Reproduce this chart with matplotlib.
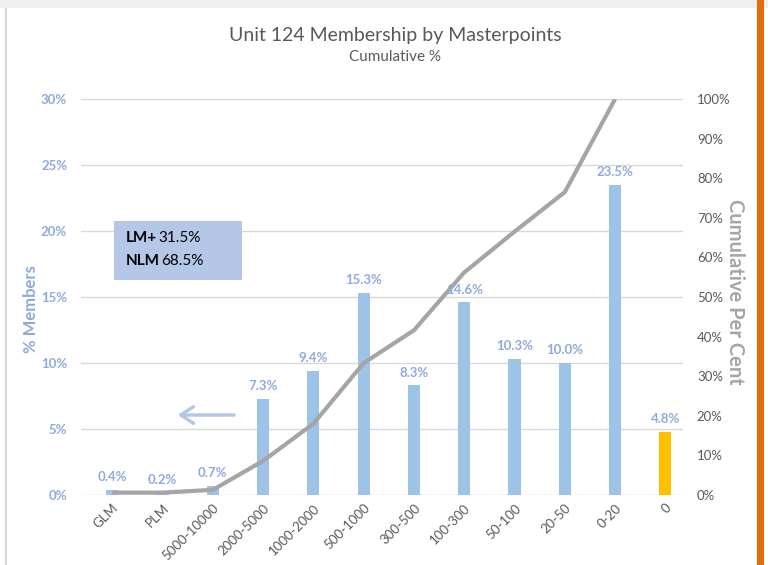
import matplotlib
matplotlib.use("Agg")
import matplotlib.pyplot as plt
from matplotlib.patches import Rectangle, FancyArrowPatch

plt.rcParams['font.family'] = ['Lato', 'DejaVu Sans']

categories = ["GLM", "PLM", "5000-10000", "2000-5000", "1000-2000", "500-1000",
              "300-500", "100-300", "50-100", "20-50", "0-20", "0"]
members_pct = [0.4, 0.2, 0.7, 7.3, 9.4, 15.3, 8.3, 14.6, 10.3, 10.0, 23.5, 4.8]
cumulative_pct = [0.6, 0.6, 1.3, 8.6, 18.0, 33.3, 41.6, 56.2, 66.5, 76.5, 100.0]
left_ticks = [0, 5, 10, 15, 20, 25, 30]
right_ticks = [0, 10, 20, 30, 40, 50, 60, 70, 80, 90, 100]

BLUE_BAR = "#9DC3E6"
YELLOW = "#FFC000"
LABEL_BLUE = "#8FAADC"
GRAY_LINE = "#A5A5A5"
TEXT_GRAY = "#595959"

fig = plt.figure(figsize=(7.68, 5.65), dpi=100)

# frame decorations
fig.add_artist(Rectangle((0, 1 - 8/565), 1, 8/565, transform=fig.transFigure,
                         facecolor="#EFEFEF", edgecolor="none"))
fig.add_artist(Rectangle((5/768, 0), 1.5/768, 1 - 8/565, transform=fig.transFigure,
                         facecolor="#D9D9D9", edgecolor="none"))
fig.add_artist(Rectangle((757/768, 0), 7/768, 1, transform=fig.transFigure,
                         facecolor="#E46C0A", edgecolor="none"))

left = 81/768
bottom = (565-495)/565
width = (683-81)/768
height = (495-99)/565
ax = fig.add_axes([left, bottom, width, height])
ax2 = ax.twinx()
ax.set_zorder(ax2.get_zorder() + 1)
ax.patch.set_visible(False)

x = list(range(len(categories)))
colors = [BLUE_BAR] * (len(categories) - 1) + [YELLOW]
ax.bar(x, members_pct, width=0.24, color=colors, zorder=2)
for xi, v in zip(x, members_pct):
    ax.text(xi, v + 0.5, f"{v:.1f}%", ha="center", va="bottom", color=LABEL_BLUE,
            fontsize=9.5, fontweight="bold", zorder=5)

ax.set_ylim(0, 30)
ax.set_xlim(-0.62, 11.35)
ax.set_yticks(left_ticks, labels=[f"{t}%" for t in left_ticks], fontweight="bold",
              color=LABEL_BLUE, fontsize=9.5)
ax.grid(axis="y", color="#D9D9D9", linewidth=1, zorder=0)
ax.set_axisbelow(True)
for s in ax.spines.values():
    s.set_visible(False)
for s in ax2.spines.values():
    s.set_visible(False)
ax.tick_params(axis="y", length=0, pad=10)
ax.tick_params(axis="x", length=0, pad=5, labelcolor=TEXT_GRAY, labelsize=9.5)
ax.set_xticks(x)
ax.set_xticklabels(categories, rotation=45, ha="right", rotation_mode="anchor")

ax2.set_ylim(0, 100)
ax2.set_yticks(right_ticks, labels=[f"{t}%" for t in right_ticks], color=TEXT_GRAY, fontsize=9.5)
ax2.tick_params(axis="y", length=0, pad=10)
ax.plot(x[:len(cumulative_pct)], [c * 0.3 for c in cumulative_pct], color=GRAY_LINE,
        linewidth=3, zorder=4, solid_capstyle="butt")

fig.text(31/768, 1 - 309/565, "% Members", color=LABEL_BLUE, fontsize=12, fontweight="bold",
         rotation=90, ha="center", va="center")
fig.text(735/768, 1 - 292/565, "Cumulative Per Cent", color=GRAY_LINE, fontsize=14.5,
         fontweight="bold", rotation=270, ha="center", va="center")

# text box
fig.add_artist(Rectangle((114/768, 1 - 280/565), 128/768, 59/565, transform=fig.transFigure,
                         facecolor="#B4C7E7", edgecolor="none", zorder=6))
fig.text(126/768, 1 - 238/565, "LM+", fontsize=11, fontweight="bold", color="black", va="center", zorder=7)
fig.text(158/768, 1 - 238/565, "31.5%", fontsize=11, color="black", va="center", zorder=7)
fig.text(126/768, 1 - 261/565, "NLM", fontsize=11, fontweight="bold", color="black", va="center", zorder=7)
fig.text(161/768, 1 - 261/565, "68.5%", fontsize=11, color="black", va="center", zorder=7)

# arrow
fig.add_artist(FancyArrowPatch((237/768, 1 - 415/565), (175/768, 1 - 415/565),
                               transform=fig.transFigure, arrowstyle="->,head_length=6,head_width=4",
                               color="#B4C7E7", linewidth=2.5, mutation_scale=1.5))

fig.text(395/768, 1 - 35/565, "Unit 124 Membership by Masterpoints", ha="center", va="center",
         fontsize=14, color=TEXT_GRAY)
fig.text(395/768, 1 - 57/565, "Cumulative %", ha="center", va="center", fontsize=11, color=TEXT_GRAY)

fig.savefig("out.png", dpi=100)
